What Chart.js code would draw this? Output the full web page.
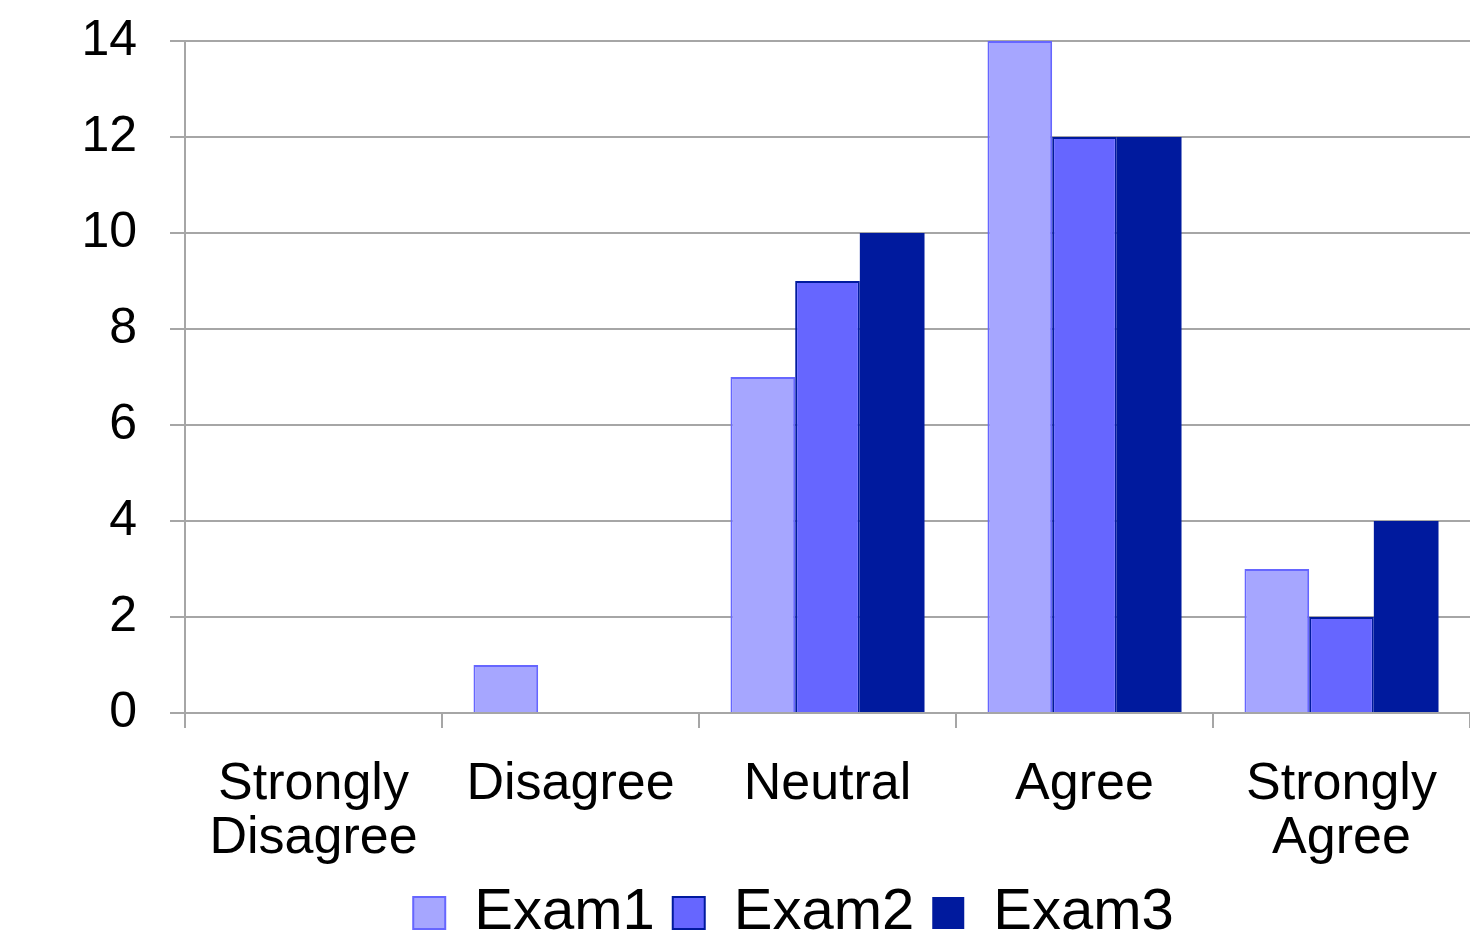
<!DOCTYPE html>
<html>
<head>
<meta charset="utf-8">
<script src="https://cdn.jsdelivr.net/npm/chart.js@4/dist/chart.umd.min.js"></script>
<style>
  html, body { margin: 0; padding: 0; background: #ffffff; }
  #wrap { width: 1470px; height: 946px; position: relative; }
</style>
</head>
<body>
<div id="wrap"><canvas id="c" width="1470" height="946"></canvas></div>
<script>
const categories = [['Strongly', 'Disagree'], 'Disagree', 'Neutral', 'Agree', ['Strongly', 'Agree']];
const seriesNames = ['Exam1', 'Exam2', 'Exam3'];
const exam1 = [0, 1, 7, 14, 3];
const exam2 = [0, 0, 9, 12, 2];
const exam3 = [0, 0, 10, 12, 4];
const yTicks = [0, 2, 4, 6, 8, 10, 12, 14];

const FONT = "'Liberation Sans', Arial, Helvetica, sans-serif";
const GRID = '#a6a6a6';

// shift the bottom legend slightly left, as in the reference
const legendShift = {
  id: 'legendShift',
  afterLayout(chart) {
    if (chart.legend) { chart.legend.left -= 34; chart.legend.right -= 34; }
  }
};

new Chart(document.getElementById('c'), {
  type: 'bar',
  data: {
    labels: categories,
    datasets: [
      { label: seriesNames[0], data: exam1, backgroundColor: '#a6a6ff', borderColor: '#6666ff', borderWidth: 2 },
      { label: seriesNames[1], data: exam2, backgroundColor: '#6666ff', borderColor: '#001a9e', borderWidth: 2 },
      { label: seriesNames[2], data: exam3, backgroundColor: '#001a9e', borderColor: '#001a9e', borderWidth: 0 }
    ]
  },
  plugins: [legendShift],
  options: {
    responsive: false,
    animation: false,
    devicePixelRatio: 1,
    categoryPercentage: 0.755,
    barPercentage: 1.0,
    layout: { padding: { top: 41, left: 0, right: 0, bottom: -6 } },
    plugins: {
      tooltip: { enabled: false },
      legend: {
        position: 'bottom',
        fullSize: false,
        labels: {
          color: '#000000',
          font: { family: FONT, size: 58 },
          boxWidth: 32,
          boxHeight: 32,
          padding: 18
        }
      }
    },
    scales: {
      x: {
        afterFit: (scale) => { scale.height = 153; },
        grid: { display: true, drawOnChartArea: false, drawTicks: true, tickLength: 15, color: GRID, lineWidth: 2, offset: true },
        border: { display: true, color: GRID, width: 2 },
        ticks: {
          color: '#000000',
          font: { family: FONT, size: 52, lineHeight: 1.04 },
          padding: 30,
          maxRotation: 0,
          autoSkip: false
        }
      },
      y: {
        min: 0,
        max: 14,
        afterFit: (scale) => { scale.width = 185; scale.paddingTop = 0; scale.paddingBottom = 0; },
        afterBuildTicks: (scale) => { scale.ticks = yTicks.map(v => ({ value: v })); },
        grid: { color: GRID, lineWidth: 2, drawTicks: true, tickLength: 15 },
        border: { display: true, color: GRID, width: 2 },
        ticks: {
          color: '#000000',
          font: { family: FONT, size: 50 },
          padding: 33,
          stepSize: 2
        }
      }
    }
  }
});
</script>
</body>
</html>
